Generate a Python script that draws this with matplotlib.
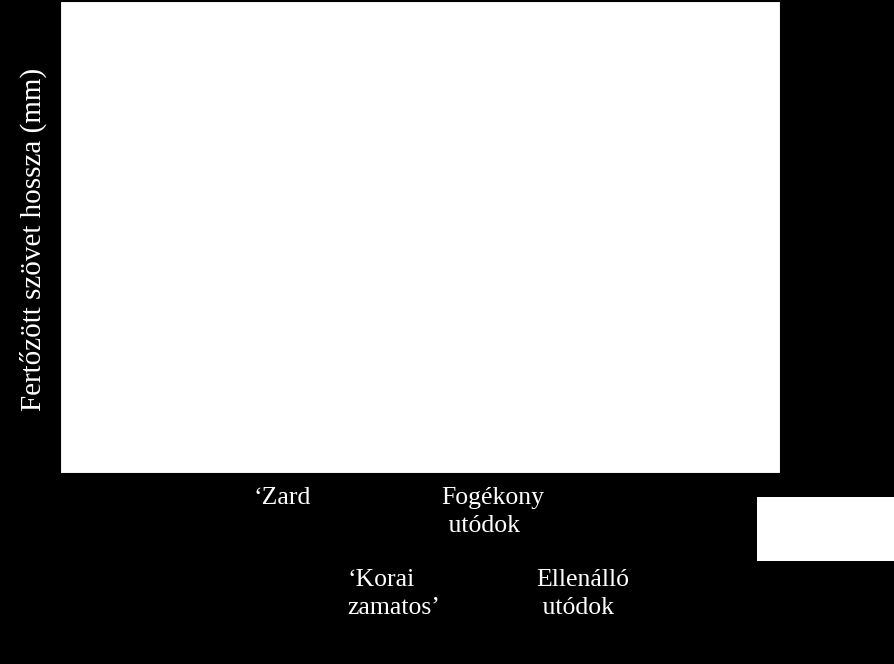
import matplotlib.pyplot as plt
from matplotlib.patches import Rectangle

# categories as they appear on the x axis (left to right)
categories = ["\u2018Zard", "\u2018Korai\nzamatos\u2019", "Fog\u00e9kony\n ut\u00f3dok", "Ellen\u00e1ll\u00f3\n ut\u00f3dok"]
y_label = "Fert\u0151z\u00f6tt sz\u00f6vet hossza (mm)"

plt.rcParams['font.family'] = ['Liberation Serif', 'DejaVu Serif']

fig = plt.figure(figsize=(8.95, 6.64), dpi=100, facecolor='black')
ax = fig.add_axes([60 / 895, 191 / 664, 720 / 895, 472 / 664])
ax.set_facecolor('white')

pos = list(range(len(categories)))
ax.set_xlim(-2.047, 5.588)
ax.set_ylim(0, 1)
ax.set_xticks(pos)
ax.set_xticklabels(categories, ha='left', color='white', fontsize=18.5, linespacing=1.38)
ax.tick_params(axis='x', length=0)
ax.set_yticks([])
for i, t in enumerate(ax.xaxis.get_major_ticks()):
    t.set_pad(10 if i % 2 == 0 else 69)
for s in ax.spines.values():
    s.set_color('black')

fig.text(0.037, 0.64, y_label, rotation=90, color='white', fontsize=21,
         ha='center', va='center')

# empty legend box on the right
fig.patches.append(Rectangle((757 / 895, 103 / 664), 138 / 895, 64 / 664,
                             transform=fig.transFigure, facecolor='white',
                             edgecolor='none'))

fig.savefig("out.png", dpi=100, facecolor='black')
